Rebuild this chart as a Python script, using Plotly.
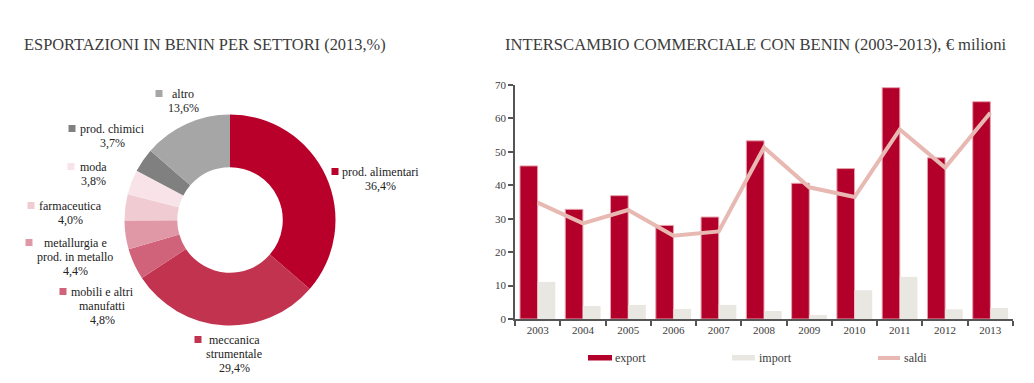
import plotly.graph_objects as go

# page body has an 8px margin: figure sits at (8, 8) inside the 1034x383 window
OFF = 8
W, H = 1018, 367

# ---------------- data ----------------
sectors = ["prod. alimentari", "meccanica strumentale", "mobili e altri manufatti",
           "metallurgia e prod. in metallo", "farmaceutica", "moda", "prod. chimici", "altro"]
shares = [36.4, 29.4, 4.8, 4.4, 4.0, 3.8, 3.7, 13.6]
share_labels = ["36,4%", "29,4%", "4,8%", "4,4%", "4,0%", "3,8%", "3,7%", "13,6%"]
sector_colors = ["#b8002b", "#c1334f", "#d0627a", "#e198a6", "#f0cbd2", "#f8e4e8", "#808080", "#a6a6a6"]

years = ["2003", "2004", "2005", "2006", "2007", "2008", "2009", "2010", "2011", "2012", "2013"]
export = [45.8, 32.8, 36.9, 28.0, 30.5, 53.3, 40.6, 45.0, 69.2, 48.2, 65.0]
imports = [11.1, 3.9, 4.2, 3.0, 4.2, 2.4, 1.2, 8.6, 12.6, 2.9, 3.3]
saldi = [34.8, 28.6, 32.6, 24.9, 26.2, 51.3, 39.4, 36.5, 56.7, 45.3, 61.7]

C_EXP = "#b3002a"
C_IMP = "#e9e7e2"
C_SAL = "#e8b9b2"
TXT = "#3c3c3c"
FONT = "Liberation Serif, Times New Roman, serif"


def px(x):
    return (x - OFF) / W


def py(y):
    return 1 - (y - OFF) / H


fig = go.Figure()

# donut
cx, cy, r = 230, 220, 105.5
fig.add_trace(go.Pie(
    labels=sectors, values=shares, hole=0.5, sort=False, direction="clockwise",
    rotation=0, marker=dict(colors=sector_colors, line=dict(width=0)),
    textinfo="none", hoverinfo="label+percent", showlegend=False,
    domain=dict(x=[px(cx - r), px(cx + r)], y=[py(cy + r), py(cy - r)]),
))

# bars + line
fig.add_trace(go.Bar(x=years, y=export, name="export", marker=dict(color=C_EXP, line=dict(color="#e6a3ad", width=1)),
                     showlegend=False, xaxis="x", yaxis="y"))
fig.add_trace(go.Bar(x=years, y=imports, name="import", marker=dict(color=C_IMP, line=dict(width=0)),
                     showlegend=False, xaxis="x", yaxis="y"))
fig.add_trace(go.Scatter(x=years, y=saldi, name="saldi", mode="lines", line=dict(color=C_SAL, width=4),
                         showlegend=False, xaxis="x", yaxis="y"))

annotations = []
shapes = []

# titles
annotations.append(dict(text="ESPORTAZIONI IN BENIN PER SETTORI (2013,%)", x=px(22), y=py(44), xref="paper", yref="paper",
                        xanchor="left", yanchor="middle", showarrow=False, font=dict(family=FONT, size=16.4, color=TXT)))
annotations.append(dict(text="INTERSCAMBIO COMMERCIALE CON BENIN (2003-2013), € milioni", x=px(503), y=py(44),
                        xref="paper", yref="paper", xanchor="left", yanchor="middle", showarrow=False,
                        font=dict(family=FONT, size=16.6, color=TXT)))

# donut labels: (text lines, text center x, first line y, marker x)
label_text = [["prod. alimentari"], ["meccanica", "strumentale"], ["mobili e altri", "manufatti"],
              ["metallurgia e", "prod. in metallo"], ["farmaceutica"], ["moda"], ["prod. chimici"], ["altro"]]
label_pos = [(380, 172, 335), (234, 340, 198), (102, 292, 63), (75, 243, 29),
             (70, 206, 31), (93, 167, 71), (112, 129, 72), (183, 94, 159)]
for i, (lines, (lx, ly, mx)) in enumerate(zip(label_text, label_pos)):
    all_lines = lines + [share_labels[i]]
    for k, t in enumerate(all_lines):
        annotations.append(dict(text=t, x=px(lx), y=py(ly + 14 * k), xref="paper", yref="paper",
                                xanchor="center", yanchor="middle", showarrow=False,
                                font=dict(family=FONT, size=12, color="#222222")))
    shapes.append(dict(type="rect", xref="paper", yref="paper", x0=px(mx - 3.5), x1=px(mx + 3.5),
                       y0=py(ly + 3), y1=py(ly - 4), fillcolor=sector_colors[i], line=dict(width=0)))

# custom legend
shapes.append(dict(type="rect", xref="paper", yref="paper", x0=px(588), x1=px(612), y0=py(360.5), y1=py(355),
                   fillcolor=C_EXP, line=dict(width=0)))
shapes.append(dict(type="rect", xref="paper", yref="paper", x0=px(732), x1=px(755), y0=py(360.5), y1=py(355),
                   fillcolor=C_IMP, line=dict(width=0)))
shapes.append(dict(type="line", xref="paper", yref="paper", x0=px(878), x1=px(900), y0=py(358), y1=py(358),
                   line=dict(color=C_SAL, width=4)))
for txt, lx in [("export", 613), ("import", 757), ("saldi", 902)]:
    annotations.append(dict(text=txt, x=px(lx), y=py(358), xref="paper", yref="paper", xanchor="left",
                            yanchor="middle", showarrow=False, font=dict(family=FONT, size=12, color=TXT)))

fig.update_layout(
    width=W, height=H, margin=dict(l=0, r=0, t=0, b=0), paper_bgcolor="white", plot_bgcolor="white",
    barmode="group", bargap=0.22, bargroupgap=0,
    xaxis=dict(domain=[px(515), px(1013)], type="category", showline=True, linecolor="#555555", linewidth=1.5,
               ticks="outside", tickson="boundaries", ticklen=5, tickwidth=1.5, tickcolor="#555555",
               showgrid=False, zeroline=False, tickfont=dict(family=FONT, size=11, color=TXT), automargin=False),
    yaxis=dict(domain=[py(319), py(85)], range=[0, 70], dtick=10, showline=True, linecolor="#555555",
               linewidth=1.5, ticks="outside", ticklen=5, tickwidth=1.5, tickcolor="#555555", showgrid=False,
               zeroline=False, tickfont=dict(family=FONT, size=11, color=TXT), automargin=False),
    annotations=annotations, shapes=shapes,
)

fig.write_html("out.html")
